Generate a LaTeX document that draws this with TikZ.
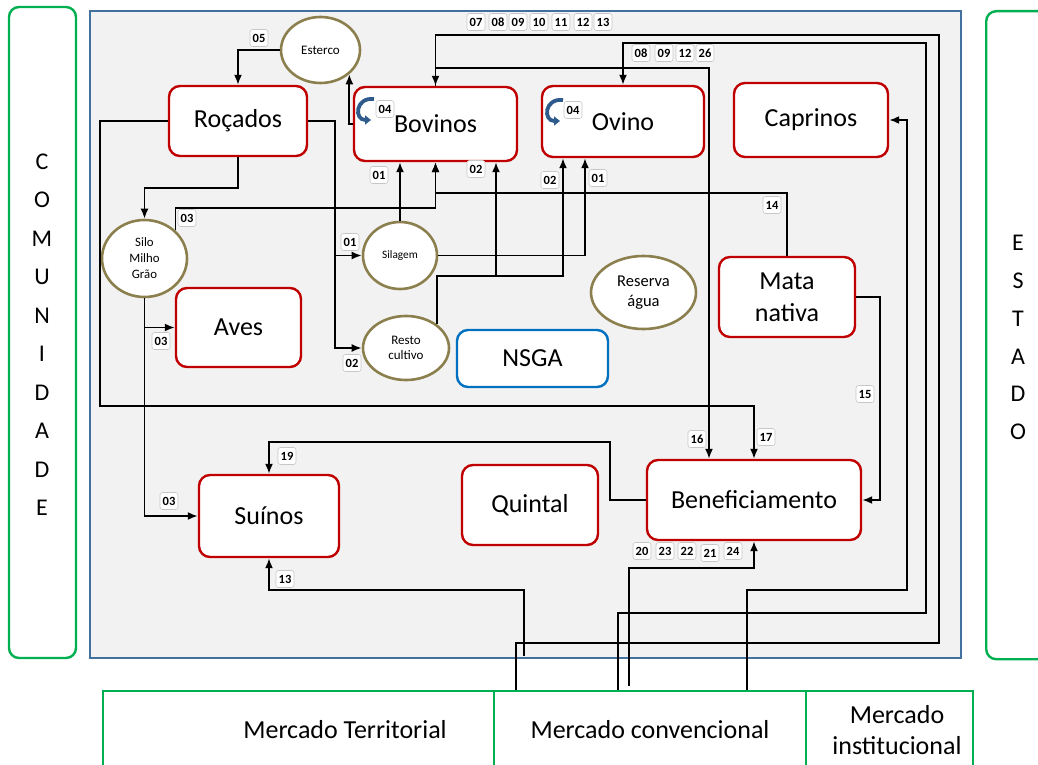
\documentclass[tikz,border=0pt]{standalone}
\usepackage{fontspec}
\setmainfont{Carlito}
\usetikzlibrary{arrows.meta,shapes.geometric,calc}
\definecolor{unitred}{HTML}{C00000}
\definecolor{mktgreen}{HTML}{00B050}
\definecolor{frameblue}{HTML}{41719C}
\definecolor{nsgablue}{HTML}{0070C0}
\definecolor{poolrim}{HTML}{8C7F4E}
\definecolor{panel}{HTML}{F2F2F2}
\definecolor{curlblue}{HTML}{2F5B8C}
\begin{document}
\begin{tikzpicture}[x=1pt,y=-1pt,
  unit/.style={draw=unitred, line width=2.4pt, fill=white, rounded corners=11pt,
    inner sep=0pt, align=center, font=\fontsize{26}{32}\selectfont},
  pool/.style={ellipse, draw=poolrim, line width=2.6pt, fill=white, inner sep=0pt, align=center},
  tag/.style={draw=black!22, line width=0.6pt, fill=white, rounded corners=2.5pt, inner sep=0pt,
    minimum width=18pt, minimum height=17pt, font=\bfseries\fontsize{12.5}{12.5}\selectfont},
  flow/.style={line width=1.8pt, -{Latex[length=10pt,width=8pt]}},
  curl/.style={draw=curlblue, line width=3.8pt, -{Triangle[length=6pt,width=9pt]}},
  side/.style={draw=mktgreen, line width=2.4pt, fill=white, rounded corners=10pt},
  market/.style={draw=mktgreen, line width=2pt, fill=white, anchor=north west, inner sep=0pt},
  bigtext/.style={font=\fontsize{26}{31}\selectfont, align=center},
  letters/.style={align=center, font=\fontsize{24}{38.5}\selectfont}
]
\useasboundingbox (0,0) rectangle (1038,765);
\clip (0,0) rectangle (1038,765);
\fill[white] (0,0) rectangle (1038,765);

% side panels
\node[side, minimum width=67pt, minimum height=651pt] (com) at (42.5,332.5) {};
\node[letters] at (42,334.5) {C\\O\\M\\U\\N\\I\\D\\A\\D\\E};
\node[side, minimum width=70pt, minimum height=648pt, anchor=north west] (est2) at (985,10) {};
\node[letters, font=\fontsize{24}{37.8}\selectfont] at (1018,337.5) {E\\S\\T\\A\\D\\O};

% farm frame
\node[draw=frameblue, line width=2.4pt, fill=panel, minimum width=871pt, minimum height=647pt,
  anchor=north west, inner sep=0pt] (farm) at (89,10) {};

% markets
\node[market, minimum width=391pt, minimum height=110pt] (mterr) at (102,690) {};
\node[market, minimum width=312pt, minimum height=110pt] (mconv) at (493,690) {};
\node[market, minimum width=167pt, minimum height=110pt] (minst) at (805,690) {};
\node[bigtext] at (345,730) {Mercado Territorial};
\node[bigtext] at (650,730) {Mercado convencional};
\node[bigtext] at (897,730) {Mercado\\institucional};

% production units
\node[unit, minimum width=138pt, minimum height=70pt] (roc) at (238,121) {Roçados};
\node[unit, minimum width=163pt, minimum height=74pt] (bov) at (435.5,124) {Bovinos};
\node[unit, minimum width=162pt, minimum height=71pt] (ovi) at (623,121.5) {Ovino};
\node[unit, minimum width=154pt, minimum height=74pt] (cap) at (811,120) {Caprinos};
\node[unit, minimum width=125pt, minimum height=79pt] (ave) at (238.5,327.5) {Aves};
\node[unit, minimum width=136pt, minimum height=80pt] (mata) at (787,297) {Mata\\nativa};
\node[unit, minimum width=214pt, minimum height=80pt] (ben) at (754,500) {Beneficiamento};
\node[unit, minimum width=140pt, minimum height=82pt] (sui) at (269,516) {Suínos};
\node[unit, minimum width=136pt, minimum height=80pt] (qui) at (530,505) {Quintal};
\node[unit, draw=nsgablue, minimum width=151pt, minimum height=57pt] (nsga) at (532.5,358.5) {NSGA};

% stocks
\node[pool, minimum width=79pt, minimum height=66pt, font=\fontsize{13}{15}\selectfont] (est) at (320.5,50) {Esterco};
\node[pool, minimum width=85pt, minimum height=77pt, font=\fontsize{12.8}{16}\selectfont] (silo) at (144.5,258.5) {Silo\\Milho\\Grão};
\node[pool, minimum width=74pt, minimum height=67pt, font=\fontsize{11.3}{13}\selectfont] (sil) at (400,255.5) {Silagem};
\node[pool, minimum width=86pt, minimum height=64pt, font=\fontsize{13}{15}\selectfont] (res) at (406,348) {Resto\\cultivo};
\node[pool, minimum width=105pt, minimum height=73pt, font=\fontsize{16.5}{20.7}\selectfont] (agua) at (643.5,292.5) {Reserva\\água};

% internal reuse marks
\draw[curl] (374,99) .. controls (355,97) and (354,120) .. (371,120);
\draw[curl] (563,100) .. controls (544,98) and (543,121) .. (560,121);

% market end points
\coordinate (m13) at (524,656);
\coordinate (m24) at (629,686);

% flows
\draw[flow] (est.west) -| (roc.north);
\draw[flow] (bov.west) -| (est.south east);
\draw[flow] (roc.south) |- (144.5,188) -- (silo.north);
\draw[flow] (roc.west) -| (100,406) -| (ben.north);
\draw[flow] (roc.east) -| (335,255.5) -- (sil.west);
\draw[flow] (roc.east) -| (335,348) -- (res.west);
\draw[flow] (silo.north east) |- (435.5,208) -- (bov.south);
\draw[flow] (mata.north) |- (435.5,193) -- (bov.south);
\draw[flow] (sil.north) -- (bov.south -| sil.north);
\draw[flow] (sil.east) -| (ovi.south -| 585,0);
\draw[flow] (res.north east) |- (496,276) -- (bov.south -| 496,0);
\draw[flow] (res.north east) |- (563,276) -- (ovi.south -| 563,0);
\draw[flow] (silo.south) |- (ave.west);
\draw[flow] (silo.south) |- (sui.west);
\draw[flow] (mata.east) -| (880,400) |- (ben.east);
\draw[flow] (ben.west) -| (610,442) -| (sui.north);
\draw[flow] (bov.north) |- (709,68) -- (ben.north -| 709,0);
\draw[flow] (mconv.north -| 516,0) |- (939,643) |- (435.5,35) -- (bov.north);
\draw[flow] (mconv.north -| 618,0) |- (926,613) |- (623,43) -- (ovi.north);
\draw[flow] (mconv.north -| 747,0) |- (907,590) |- (cap.east);
\draw[flow] (m24) |- (754,568) -- (ben.south);
\draw[flow] (m13) |- (269,590) -- (sui.south);

% flow codes
\node[tag] (t05) at (259,38) {05};
\node[tag] (t04a) at (385,109) {04};
\node[tag] (t04b) at (573,110) {04};
\node[tag] (t07) at (476,22) {07};
\node[tag] (t08) at (498,22) {08};
\node[tag] (t09) at (518,22) {09};
\node[tag] (t10) at (539,22) {10};
\node[tag] (t11) at (561,22) {11};
\node[tag] (t12) at (583,22) {12};
\node[tag] (t13) at (603,22) {13};
\node[tag] (u08) at (641,53) {08};
\node[tag] (u09) at (664,53) {09};
\node[tag] (u12) at (685,53) {12};
\node[tag] (u26) at (705,53) {26};
\node[tag] (a01) at (379,175) {01};
\node[tag] (a02) at (476,169) {02};
\node[tag] (b02) at (550,180) {02};
\node[tag] (b01) at (598,178) {01};
\node[tag] (c03) at (187,218) {03};
\node[tag] (t14) at (772,205) {14};
\node[tag] (d01) at (350,242) {01};
\node[tag] (d02) at (352,363) {02};
\node[tag] (e03) at (161,341) {03};
\node[tag] (t15) at (865,394) {15};
\node[tag] (t16) at (697,439) {16};
\node[tag] (t17) at (766,437) {17};
\node[tag] (t19) at (287,456) {19};
\node[tag] (f03) at (169,501) {03};
\node[tag] (g13) at (285,579) {13};
\node[tag] (t20) at (642,551) {20};
\node[tag] (t23) at (665,551) {23};
\node[tag] (t22) at (687,551) {22};
\node[tag] (t21) at (710,553) {21};
\node[tag] (t24) at (733,551) {24};
\end{tikzpicture}
\end{document}
